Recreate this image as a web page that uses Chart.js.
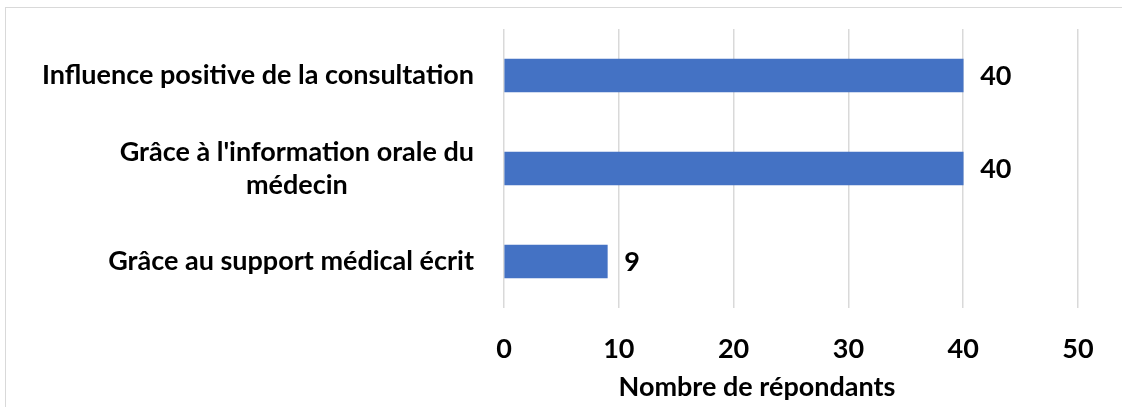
<!DOCTYPE html>
<html>
<head>
<meta charset="utf-8">
<script src="https://cdn.jsdelivr.net/npm/chart.js@4"></script>
<style>
  html, body { margin: 0; padding: 0; background: #fff; overflow: hidden; }
  #cadre { position: absolute; left: 5px; top: 7px; width: 1200px; height: 500px; border: 1px solid #d9d9d9; }
  #boite { position: absolute; left: 0; top: 0; width: 1122px; height: 407px; }
</style>
</head>
<body>
<div id="cadre"></div>
<div id="boite"><canvas id="graficoRaisons"></canvas></div>
<script>
const categories = [
  ['Influence positive de la consultation'],
  ["Grâce à l'information orale du", 'médecin'],
  ['Grâce au support médical écrit']
]
const valeurs = [40, 40, 9]
const titreAxe = 'Nombre de répondants'

const police = 'Lato, Calibri, Carlito, sans-serif'
const taille = 27

// etiquettes des categories, chaque bloc aligne a droite, lignes centrees
const pluginEtiquettes = {
  id: 'etiquettes',
  afterDraw(chart) {
    const ctx = chart.ctx
    const y = chart.scales.y
    const meta = chart.getDatasetMeta(0)
    ctx.save()
    ctx.fillStyle = '#000'
    ctx.font = 'bold ' + taille + 'px ' + police
    ctx.textBaseline = 'middle'

    categories.forEach((lignes, i) => {
      let largeur = Math.max(...lignes.map(l => ctx.measureText(l).width))
      let droite = chart.chartArea.left - 30
      let centre = droite - largeur / 2
      let yc = y.getPixelForValue(i)
      let haut = yc - (lignes.length - 1) * 33 / 2
      ctx.textAlign = 'center'
      lignes.forEach((l, j) => ctx.fillText(l, centre, haut + j * 33))
    })

    // valeurs au bout des barres
    ctx.textAlign = 'left'
    meta.data.forEach((barre, i) => {
      ctx.fillText(String(valeurs[i]), barre.x + 17, barre.y + 1)
    })

    // titre de l'axe
    ctx.textAlign = 'center'
    ctx.fillText(titreAxe, chart.chartArea.left + 253, 387)
    ctx.restore()
  }
}

const elementGrafico = document.querySelector('#graficoRaisons')

const grafico = new Chart(elementGrafico, {
  type: 'bar',
  data: {
    labels: categories.map(c => c.join(' ')),
    datasets: [{
      data: valeurs,
      backgroundColor: '#4472C4',
      barThickness: 33
    }]
  },
  options: {
    indexAxis: 'y',
    responsive: true,
    maintainAspectRatio: false,
    animation: false,
    layout: { padding: { top: 29, right: 44, left: 0, bottom: 0 } },
    plugins: {
      legend: { display: false },
      tooltip: { enabled: false }
    },
    scales: {
      x: {
        min: 0,
        max: 50,
        ticks: {
          stepSize: 10,
          padding: 25,
          color: '#000',
          font: { family: police, size: taille, weight: 'bold' }
        },
        grid: { color: '#d9d9d9', lineWidth: 1.5, drawTicks: false },
        border: { display: false },
        afterFit: scale => { scale.height = 99 }
      },
      y: {
        ticks: { display: false },
        grid: { display: false },
        border: { display: false },
        afterFit: scale => { scale.width = 504 }
      }
    }
  },
  plugins: [pluginEtiquettes]
})
</script>
</body>
</html>
